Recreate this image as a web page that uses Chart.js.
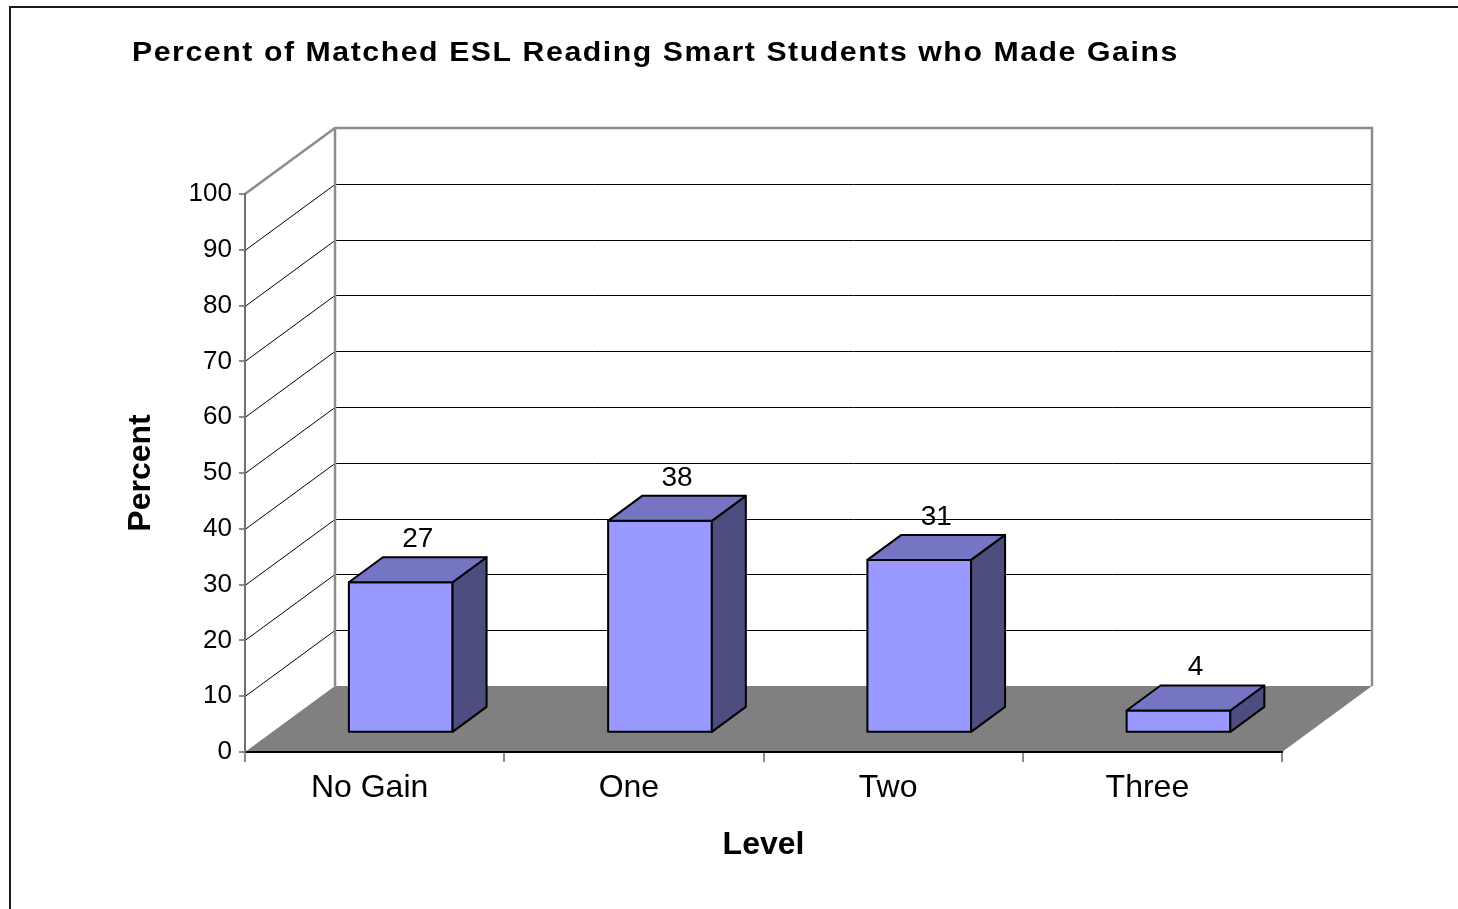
<!DOCTYPE html>
<html>
<head>
<meta charset="utf-8">
<script src="https://cdn.jsdelivr.net/npm/chart.js@4/dist/chart.umd.min.js"></script>
<style>
  html, body { margin: 0; padding: 0; background: #fff; }
  canvas { display: block; }
</style>
</head>
<body>
<canvas id="c" width="1458" height="909"></canvas>
<script>
// ---- data ----
const categories = ['No Gain', 'One', 'Two', 'Three'];
const percentValues = [27, 38, 31, 4];
const yTickMin = 0;
const yTickMax = 100;
const yTickStep = 10;
const chartTitle = 'Percent of Matched ESL Reading Smart Students who Made Gains';
const yAxisTitle = 'Percent';
const xAxisTitle = 'Level';

// ---- style ----
const FONT = "'Liberation Sans', Arial, Helvetica, sans-serif";
const DEPTH_X = 90, DEPTH_Y = 66;      // 3D depth of the plot box
const BAR_FRONT = 0.29;                // bar front position in depth (fraction)
const BAR_DX = 34, BAR_DY = 25;        // bar depth
const WALL_GRAY = '#8c8c8c';
const FLOOR = '#808080';
const BAR_FRONT_COL = '#9999FF', BAR_TOP_COL = '#7575C4', BAR_SIDE_COL = '#4D4D80';

const scene3d = {
  id: 'scene3d',
  beforeDraw(chart) {
    const ctx = chart.ctx;
    const ys = chart.scales.y;
    const L = chart.chartArea.left, R = chart.chartArea.right;
    ctx.save();
    ctx.fillStyle = '#fff';
    ctx.fillRect(0, 0, chart.width, chart.height);
    // outer frame
    ctx.strokeStyle = '#1a1a1a';
    ctx.lineWidth = 2;
    ctx.beginPath();
    ctx.moveTo(10, chart.height + 5);
    ctx.lineTo(10, 7);
    ctx.lineTo(chart.width + 5, 7);
    ctx.stroke();
    // title (slightly widened, as in the original rendering)
    ctx.save();
    ctx.fillStyle = '#000';
    ctx.font = 'bold 27px ' + FONT;
    ctx.textBaseline = 'alphabetic';
    ctx.textAlign = 'left';
    ctx.translate(132, 61);
    ctx.scale(1.12, 1);
    let tx = 0;
    for (const ch of chartTitle) {
      ctx.fillText(ch, tx, 0);
      tx += ctx.measureText(ch).width + 1.4;
    }
    ctx.restore();
    // gridlines on side wall and back wall
    ctx.strokeStyle = '#000';
    ctx.lineWidth = 1;
    ys.ticks.forEach(t => {
      if (t.value <= yTickMin || t.value >= yTickMax) return;
      const py = Math.round(ys.getPixelForValue(t.value)) + 0.5;
      ctx.beginPath();
      ctx.moveTo(L, py);
      ctx.lineTo(L + DEPTH_X, py - DEPTH_Y);
      ctx.lineTo(R + DEPTH_X, py - DEPTH_Y);
      ctx.stroke();
    });
    const pTop = ys.getPixelForValue(yTickMax);
    const p0 = ys.getPixelForValue(yTickMin);
    // floor
    ctx.fillStyle = FLOOR;
    ctx.beginPath();
    ctx.moveTo(L, p0);
    ctx.lineTo(R, p0);
    ctx.lineTo(R + DEPTH_X, p0 - DEPTH_Y);
    ctx.lineTo(L + DEPTH_X, p0 - DEPTH_Y);
    ctx.closePath();
    ctx.fill();
    // wall outlines
    ctx.strokeStyle = WALL_GRAY;
    ctx.lineWidth = 2.5;
    ctx.lineJoin = 'miter';
    ctx.beginPath();
    ctx.moveTo(L, pTop);
    ctx.lineTo(L + DEPTH_X, pTop - DEPTH_Y);
    ctx.lineTo(R + DEPTH_X, pTop - DEPTH_Y);
    ctx.lineTo(R + DEPTH_X, p0 - DEPTH_Y);
    ctx.moveTo(L + DEPTH_X, pTop - DEPTH_Y);
    ctx.lineTo(L + DEPTH_X, p0 - DEPTH_Y);
    ctx.stroke();
    ctx.restore();
  },
  beforeDatasetsDraw(chart) {
    const ctx = chart.ctx;
    const meta = chart.getDatasetMeta(0);
    const fx = BAR_FRONT * DEPTH_X, fy = BAR_FRONT * DEPTH_Y;
    ctx.save();
    ctx.lineWidth = 2;
    ctx.lineJoin = 'round';
    ctx.strokeStyle = '#000';
    meta.data.forEach((bar, i) => {
      const p = bar.getProps(['x', 'y', 'base', 'width'], true);
      const l = p.x - p.width / 2 + fx, r = p.x + p.width / 2 + fx;
      const t = p.y - fy, b = p.base - fy;
      // front
      ctx.fillStyle = BAR_FRONT_COL;
      ctx.beginPath();
      ctx.rect(l, t, r - l, b - t);
      ctx.fill(); ctx.stroke();
      // side
      ctx.fillStyle = BAR_SIDE_COL;
      ctx.beginPath();
      ctx.moveTo(r, b); ctx.lineTo(r, t);
      ctx.lineTo(r + BAR_DX, t - BAR_DY); ctx.lineTo(r + BAR_DX, b - BAR_DY);
      ctx.closePath();
      ctx.fill(); ctx.stroke();
      // top
      ctx.fillStyle = BAR_TOP_COL;
      ctx.beginPath();
      ctx.moveTo(l, t); ctx.lineTo(r, t);
      ctx.lineTo(r + BAR_DX, t - BAR_DY); ctx.lineTo(l + BAR_DX, t - BAR_DY);
      ctx.closePath();
      ctx.fill(); ctx.stroke();
      // value label
      ctx.fillStyle = '#000';
      ctx.font = '28px ' + FONT;
      ctx.textAlign = 'center';
      ctx.textBaseline = 'middle';
      ctx.fillText(String(percentValues[i]), (l + r) / 2 + BAR_DX / 2, t - BAR_DY - 18);
    });
    ctx.restore();
    return false;
  }
};

new Chart(document.getElementById('c'), {
  type: 'bar',
  data: {
    labels: categories,
    datasets: [{
      label: 'Percent',
      data: percentValues,
      backgroundColor: BAR_FRONT_COL,
      categoryPercentage: 0.8,
      barPercentage: 0.5
    }]
  },
  options: {
    responsive: false,
    animation: false,
    devicePixelRatio: 1,
    layout: { padding: { top: 194, right: 176, bottom: 0, left: 0 } },
    plugins: { legend: { display: false }, title: { display: false }, tooltip: { enabled: false } },
    scales: {
      x: {
        afterFit: s => { s.height = 157; },
        grid: { offset: true, drawOnChartArea: false, drawTicks: true, tickLength: 10, color: WALL_GRAY, lineWidth: 2 },
        border: { display: true, color: '#000', width: 2 },
        ticks: { color: '#000', font: { family: FONT, size: 32 }, padding: 7, maxRotation: 0, labelOffset: -5 },
        title: { display: true, text: xAxisTitle, color: '#000', font: { family: FONT, size: 32, weight: 'bold' }, padding: { top: 0, bottom: 45 } }
      },
      y: {
        min: yTickMin, max: yTickMax,
        afterFit: s => { s.width = 245; },
        grid: { drawOnChartArea: false, drawTicks: true, tickLength: 6, color: WALL_GRAY, lineWidth: 2 },
        border: { display: true, color: '#707070', width: 2 },
        ticks: { stepSize: yTickStep, color: '#000', font: { family: FONT, size: 26 }, padding: 7 },
        title: { display: true, text: yAxisTitle, color: '#000', font: { family: FONT, size: 32, weight: 'bold' }, padding: { top: 122, bottom: 0 } }
      }
    }
  },
  plugins: [scene3d]
});
</script>
</body>
</html>
